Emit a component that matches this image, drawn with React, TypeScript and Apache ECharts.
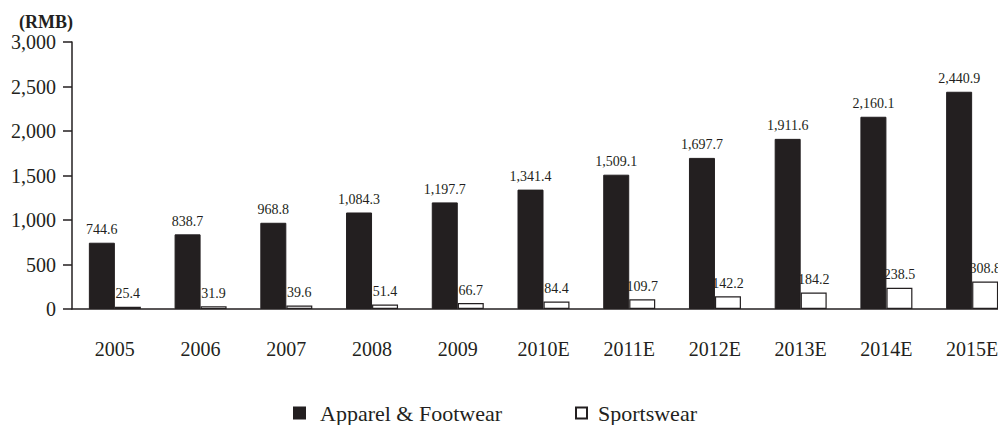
import React, { useEffect, useRef } from "react";
import * as echarts from "echarts";

const categories = ["2005", "2006", "2007", "2008", "2009", "2010E", "2011E", "2012E", "2013E", "2014E", "2015E"];
const apparelFootwear = [744.6, 838.7, 968.8, 1084.3, 1197.7, 1341.4, 1509.1, 1697.7, 1911.6, 2160.1, 2440.9];
const sportswear = [25.4, 31.9, 39.6, 51.4, 66.7, 84.4, 109.7, 142.2, 184.2, 238.5, 308.8];
const yTicks = { min: 0, max: 3000, interval: 500 };

const FONT = "Liberation Serif, Times New Roman, serif";
const INK = "#231f20";

const fmt1 = (v: number) =>
  v.toLocaleString("en-US", { minimumFractionDigits: 1, maximumFractionDigits: 1 });

export default function App() {
  const ref = useRef<HTMLDivElement>(null);
  useEffect(() => {
    if (!ref.current) return;
    const chart = echarts.init(ref.current, undefined, { renderer: "svg" });
    chart.setOption({
      animation: false,
      backgroundColor: "#ffffff",
      textStyle: { fontFamily: FONT, color: INK },
      graphic: [
        {
          type: "text",
          left: 11,
          top: 5,
          style: { text: "(RMB)", font: `bold 18px ${FONT}`, fill: INK },
        },
      ],
      legend: [
        {
          data: ["Apparel & Footwear"],
          left: 285,
          top: 394,
          padding: 0,
          icon: "rect",
          itemWidth: 11,
          itemHeight: 11,
          textStyle: { fontFamily: FONT, fontSize: 22, color: INK, padding: [0, 0, 0, 10] },
        },
        {
          data: ["Sportswear"],
          left: 567,
          top: 394,
          padding: 0,
          icon: "rect",
          itemWidth: 11,
          itemHeight: 11,
          textStyle: { fontFamily: FONT, fontSize: 22, color: INK, padding: [0, 0, 0, 6] },
        },
      ],
      grid: { left: 61, top: 34, width: 946, height: 267, containLabel: false },
      xAxis: {
        type: "category",
        data: categories,
        axisLine: { lineStyle: { color: INK, width: 1.5 } },
        axisTick: { inside: true, length: 6, lineStyle: { color: INK, width: 1.5 } },
        axisLabel: { fontFamily: FONT, fontSize: 20, color: INK, margin: 30 },
      },
      yAxis: {
        type: "value",
        min: yTicks.min,
        max: yTicks.max,
        interval: yTicks.interval,
        splitLine: { show: false },
        axisLine: { show: true, lineStyle: { color: INK, width: 1.5 } },
        axisTick: { show: true, length: 9, lineStyle: { color: INK, width: 1.5 } },
        axisLabel: {
          fontFamily: FONT,
          fontSize: 20,
          color: INK,
          margin: 16,
          formatter: (v: number) => v.toLocaleString("en-US"),
        },
      },
      series: [
        {
          name: "Apparel & Footwear",
          type: "bar",
          data: apparelFootwear,
          barWidth: 26,
          barGap: "0%",
          itemStyle: { color: INK, borderColor: INK, borderWidth: 1 },
          label: {
            show: true,
            position: "top",
            distance: 6,
            fontFamily: FONT,
            fontSize: 14,
            color: INK,
            formatter: (p: any) => fmt1(p.value),
          },
        },
        {
          name: "Sportswear",
          type: "bar",
          data: sportswear,
          barWidth: 26,
          barGap: "0%",
          itemStyle: { color: "#ffffff", borderColor: INK, borderWidth: 1.2 },
          label: {
            show: true,
            position: "top",
            distance: 6,
            fontFamily: FONT,
            fontSize: 14,
            color: INK,
            formatter: (p: any) => fmt1(p.value),
          },
        },
      ],
    });
    return () => chart.dispose();
  }, []);
  return (
    <div style={{ width: 998, height: 417, overflow: "hidden" }}>
      <div ref={ref} style={{ width: 1030, height: 417 }} />
    </div>
  );
}
